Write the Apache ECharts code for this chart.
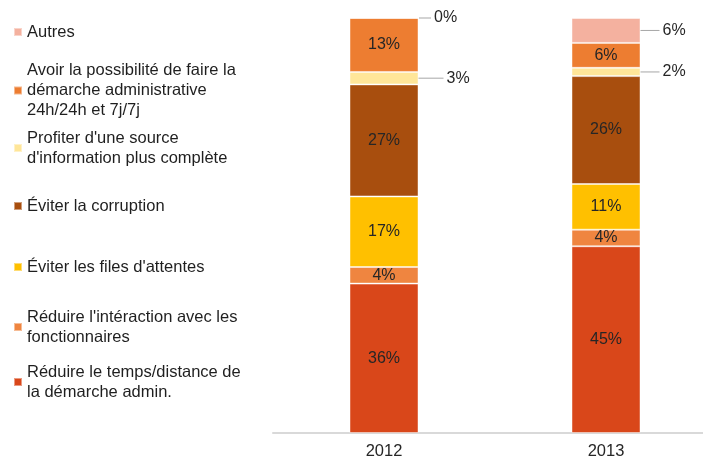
<!DOCTYPE html>
<html>
<head>
<meta charset="utf-8">
<script src="https://cdn.jsdelivr.net/npm/echarts@6/dist/echarts.min.js"></script>
<style>
  html, body { margin: 0; padding: 0; background: #fff; }
  #chart { width: 703px; height: 465px; }
</style>
</head>
<body>
<div id="chart"></div>
<script>
// années
const categories = ["2012", "2013"];

// séries, du bas vers le haut de la pile
const seriesNames = [
  "Réduire le temps/distance de\nla démarche admin.",
  "Réduire l'intéraction avec les\nfonctionnaires",
  "Éviter les files d'attentes",
  "Éviter la corruption",
  "Profiter d'une source\nd'information plus complète",
  "Avoir la possibilité de faire la\ndémarche administrative\n24h/24h et 7j/7j",
  "Autres"
];
const tempsValues = [36, 45];
const interactionValues = [4, 4];
const filesValues = [17, 11];
const corruptionValues = [27, 26];
const profiterValues = [3, 2];
const avoirValues = [13, 6];
const autresValues = [0, 6];

const seriesValues = [tempsValues, interactionValues, filesValues, corruptionValues,
  profiterValues, avoirValues, autresValues];
const colors = ["#D9471A", "#EF8540", "#FFC000", "#A84E0E", "#FFE699", "#ED7D31", "#F4B19F"];

const FONT = "Liberation Sans, Arial, sans-serif";

// étiquettes sorties de la barre : "série-année" -> longueur du trait de rappel
const outside = {
  "4-0": { len: 25 },
  "4-1": { len: 19 },
  "6-0": { len: 12 },
  "6-1": { len: 19 }
};

// position verticale du carré de légende, du haut vers le bas
const legendIconY = [32, 90.5, 148, 206, 267, 327, 382];
const LH = 20;

const chart = echarts.init(document.getElementById("chart"));

const series = seriesNames.map((name, s) => ({
  name: name,
  type: "bar",
  stack: "total",
  barWidth: 69,
  itemStyle: { color: colors[s], borderColor: "rgba(255,255,255,0.45)", borderWidth: 1 },
  label: {
    show: true,
    position: "inside",
    formatter: "{c}%",
    color: "#262626",
    fontSize: 16,
    fontFamily: FONT
  },
  data: seriesValues[s].map((v, i) => {
    const o = outside[s + "-" + i];
    if (!o) return v;
    return {
      value: v,
      label: {
        position: "right",
        distance: 0,
        formatter: "{ln|}{t|{c}%}",
        rich: {
          ln: { width: o.len, height: 1, backgroundColor: "#A6A6A6", verticalAlign: "middle" },
          t: { color: "#262626", fontSize: 16, fontFamily: FONT, padding: [0, 0, 0, 3], verticalAlign: "middle" }
        }
      }
    };
  })
}));

// une légende par entrée, de haut en bas
const legendOrder = seriesNames.slice().reverse();
const legends = legendOrder.map((name, k) => {
  const n = name.split("\n").length;
  return {
    data: [name],
    orient: "vertical",
    left: 13,
    top: legendIconY[k] - (2 * n - 1) * LH / 2,
    padding: 0,
    itemWidth: 8,
    itemHeight: 8,
    itemGap: 0,
    icon: "rect",
    selectedMode: false,
    textStyle: {
      color: "#1f1f1f",
      fontSize: 16.5,
      lineHeight: LH,
      fontFamily: FONT,
      padding: [(n - 1) * LH, 0, 0, 0]
    }
  };
});

chart.setOption({
  animation: false,
  legend: legends,
  grid: { left: 273, top: 18, width: 444, height: 415, outerBoundsMode: "none" },
  xAxis: {
    type: "category",
    data: categories,
    axisLine: { lineStyle: { color: "#D9D9D9", width: 2 } },
    axisTick: { show: false },
    axisLabel: { color: "#262626", fontSize: 16.5, margin: 10, fontFamily: FONT }
  },
  yAxis: { type: "value", min: 0, max: 100, show: false, splitLine: { show: false } },
  series: series
});
</script>
</body>
</html>
